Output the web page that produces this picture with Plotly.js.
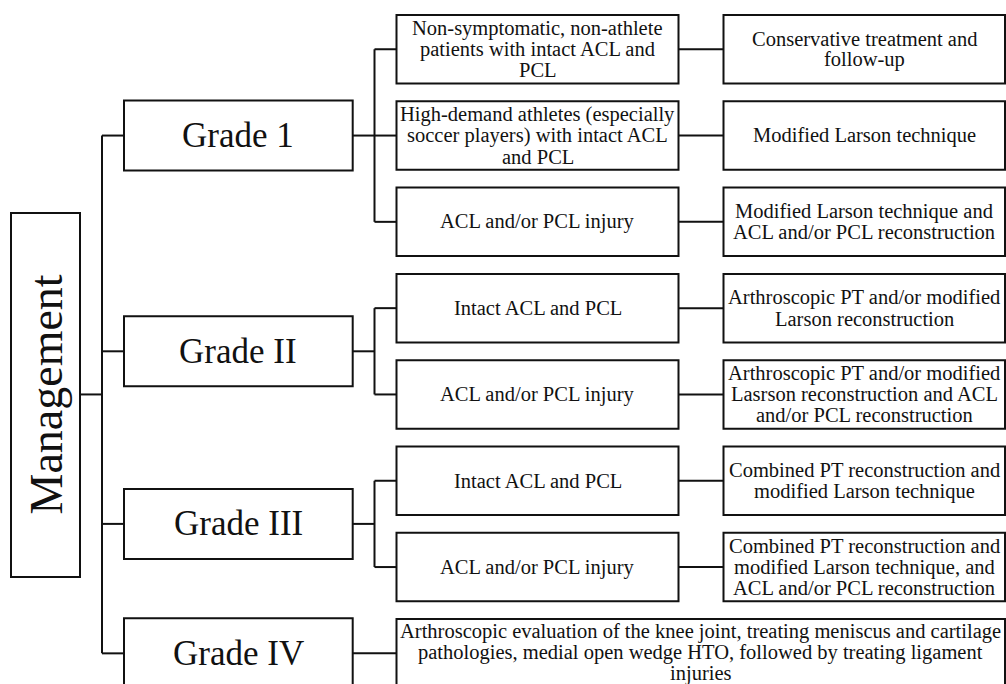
<!DOCTYPE html>
<html>
<head>
<meta charset="utf-8">
<script src="https://cdn.plot.ly/plotly-3.0.1.min.js"></script>
<style>html,body{margin:0;padding:0;background:#fff;}#chart{width:1006px;height:684px;}</style>
</head>
<body>
<div id="chart"></div>
<script>
// ---- content ----
const rootLabel = "Management";
const grades = ["Grade 1", "Grade II", "Grade III", "Grade IV"];
// conditions per grade (each condition = list of text lines)
const conditionsG1 = [
  ["Non-symptomatic, non-athlete", "patients with intact ACL and", "PCL"],
  ["High-demand athletes (especially", "soccer players) with intact ACL", "and PCL"],
  ["ACL and/or PCL injury"]
];
const treatmentsG1 = [
  ["Conservative treatment and", "follow-up"],
  ["Modified Larson technique"],
  ["Modified Larson technique and", "ACL and/or PCL reconstruction"]
];
const conditionsG2 = [["Intact ACL and PCL"], ["ACL and/or PCL injury"]];
const treatmentsG2 = [
  ["Arthroscopic PT and/or modified", "Larson reconstruction"],
  ["Arthroscopic PT and/or modified", "Lasrson reconstruction and ACL", "and/or PCL reconstruction"]
];
const conditionsG3 = [["Intact ACL and PCL"], ["ACL and/or PCL injury"]];
const treatmentsG3 = [
  ["Combined PT reconstruction and", "modified Larson technique"],
  ["Combined PT reconstruction and", "modified Larson technique, and", "ACL and/or PCL reconstruction"]
];
const treatmentG4 = [
  "Arthroscopic evaluation of the knee joint, treating meniscus and cartilage",
  "pathologies, medial open wedge HTO, followed by treating ligament",
  "injuries"
];

// ---- geometry (layout only) ----
const G = {
  rowTop0: 15, rowStep: 86.3, rowH: 68.5,
  mgmtX0: 11, mgmtX1: 80, mgmtY0: 213, mgmtY1: 577,
  trunkX: 102,
  gradeX0: 124, gradeX1: 352.7, gradeH: 70,
  branchX: 374.5,
  subX0: 396.5, subX1: 678.5,
  treatX0: 723.5, treatX1: 1005,
  lineSpacing: 21
};
const FONT = '"Liberation Serif", "Times New Roman", Times, serif';
const shapes = [];
const annotations = [];
function rect(x0, y0, x1, y1) {
  shapes.push({type: "rect", xref: "x", yref: "y", x0, y0, x1, y1,
    line: {color: "#111", width: 2}, fillcolor: "rgba(0,0,0,0)"});
}
function seg(x0, y0, x1, y1) {
  shapes.push({type: "line", xref: "x", yref: "y", x0, y0, x1, y1,
    line: {color: "#111", width: 2}});
}
function label(lines, cx, cy, size) {
  const n = lines.length;
  lines.forEach((t, k) => {
    annotations.push({x: cx, y: cy + (k - (n - 1) / 2) * G.lineSpacing, xref: "x", yref: "y",
      text: t, showarrow: false, xanchor: "center", yanchor: "middle",
      font: {family: FONT, size: size, color: "#111"}});
  });
}

const groups = [
  {conds: conditionsG1, treats: treatmentsG1},
  {conds: conditionsG2, treats: treatmentsG2},
  {conds: conditionsG3, treats: treatmentsG3},
  {conds: null, treats: [treatmentG4]}
];

let row = 0;
const gradeCenters = [];
groups.forEach((g, gi) => {
  const n = g.treats.length;
  const centers = [];
  for (let i = 0; i < n; i++) {
    const top = G.rowTop0 + row * G.rowStep;
    const cy = top + G.rowH / 2;
    centers.push(cy);
    if (g.conds) {
      rect(G.subX0, top, G.subX1, top + G.rowH);
      label(g.conds[i], (G.subX0 + G.subX1) / 2, cy, 20.5);
      rect(G.treatX0, top, G.treatX1, top + G.rowH);
      label(g.treats[i], (G.treatX0 + G.treatX1) / 2, cy, 20.5);
      seg(G.subX1, cy, G.treatX0, cy);
    } else {
      rect(G.subX0, top, G.treatX1, top + G.rowH + 4);
      label(g.treats[i], (G.subX0 + G.treatX1) / 2, cy - 0.5, 20.5);
    }
    row++;
  }
  const gc = centers.reduce((a, b) => a + b, 0) / centers.length;
  gradeCenters.push(gc);
  rect(G.gradeX0, gc - G.gradeH / 2, G.gradeX1, gc + G.gradeH / 2 + (gi === 3 ? 40 : 0));
  label([grades[gi]], (G.gradeX0 + G.gradeX1) / 2, gc, 35);
  if (g.conds) {
    seg(G.gradeX1, gc, G.branchX, gc);
    seg(G.branchX, centers[0], G.branchX, centers[centers.length - 1]);
    centers.forEach(c => seg(G.branchX, c, G.subX0, c));
  } else {
    seg(G.gradeX1, gc, G.subX0, gc);
  }
  seg(G.trunkX, gc, G.gradeX0, gc);
});
const trunkMid = (gradeCenters[0] + gradeCenters[gradeCenters.length - 1]) / 2;
seg(G.trunkX, gradeCenters[0], G.trunkX, gradeCenters[gradeCenters.length - 1]);
rect(G.mgmtX0, G.mgmtY0, G.mgmtX1, G.mgmtY1);
seg(G.mgmtX1, trunkMid, G.trunkX, trunkMid);
annotations.push({x: (G.mgmtX0 + G.mgmtX1) / 2, y: (G.mgmtY0 + G.mgmtY1) / 2, xref: "x", yref: "y",
  text: rootLabel, showarrow: false, textangle: -90, xanchor: "center", yanchor: "middle",
  font: {family: FONT, size: 46, color: "#111"}});

const layout = {
  width: 1006, height: 684,
  margin: {l: 0, r: 0, t: 0, b: 0, pad: 0},
  paper_bgcolor: "#fff", plot_bgcolor: "#fff",
  font: {family: FONT},
  xaxis: {range: [0, 1006], visible: false, fixedrange: true},
  yaxis: {range: [684, 0], visible: false, fixedrange: true},
  shapes, annotations, showlegend: false
};
Plotly.newPlot("chart", [{x: [], y: [], type: "scatter"}], layout, {staticPlot: true});
</script>
</body>
</html>
